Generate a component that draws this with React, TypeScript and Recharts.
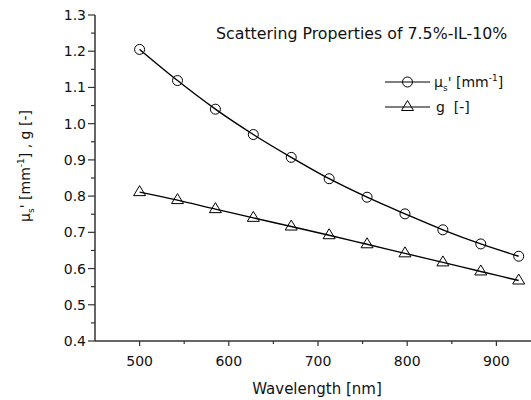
import { Label, Line, LineChart, XAxis, YAxis } from 'recharts';

// wavelength [nm] of the measured points
const wavelengths = [500, 542.5, 585, 627.5, 670, 712.5, 755, 797.5, 840, 882.5, 925];
// reduced scattering coefficient mu_s' [mm^-1]
const musValues = [1.205, 1.119, 1.04, 0.97, 0.907, 0.848, 0.797, 0.751, 0.707, 0.668, 0.634];
// anisotropy g [-]
const gValues = [0.811, 0.789, 0.764, 0.74, 0.716, 0.692, 0.667, 0.642, 0.617, 0.592, 0.567];

const xTicks = [500, 550, 600, 650, 700, 750, 800, 850, 900];
const xTickLabels = ['500', '', '600', '', '700', '', '800', '', '900'];
const yTicks = [0.4, 0.45, 0.5, 0.55, 0.6, 0.65, 0.7, 0.75, 0.8, 0.85, 0.9, 0.95, 1.0, 1.05, 1.1, 1.15, 1.2, 1.25, 1.3];
const yTickLabels = ['0.4', '', '0.5', '', '0.6', '', '0.7', '', '0.8', '', '0.9', '', '1.0', '', '1.1', '', '1.2', '', '1.3'];

const title = 'Scattering Properties of 7.5%-IL-10%';

const data = wavelengths.map((w, i) => ({ w, mus: musValues[i], g: gValues[i] }));

const FONT = '"DejaVu Sans", "Liberation Sans", Arial, sans-serif';
const INK = '#000';
const AXIS = '#333';

function XTick(props: any) {
  const { x, y, index } = props;
  const label = xTickLabels[index];
  return (
    <g>
      <line x1={x} x2={x} y1={y} y2={y + (label ? 5 : 3)} stroke={AXIS} strokeWidth={1.2} />
      {label && (
        <text x={x} y={y + 25} textAnchor="middle" fontSize={14} fontFamily={FONT} fill="#111">
          {label}
        </text>
      )}
    </g>
  );
}

function YTick(props: any) {
  const { x, y, index } = props;
  const label = yTickLabels[index];
  return (
    <g>
      <line x1={x - (label ? 7 : 4)} x2={x} y1={y} y2={y} stroke={AXIS} strokeWidth={1.2} />
      {label && (
        <text x={x - 9} y={y + 5} textAnchor="end" fontSize={14} fontFamily={FONT} fill="#111">
          {label}
        </text>
      )}
    </g>
  );
}

function CircleDot(props: any) {
  const { cx, cy } = props;
  return <circle cx={cx} cy={cy} r={5} fill="none" stroke={INK} strokeWidth={1} />;
}

function TriangleDot(props: any) {
  const { cx, cy } = props;
  return (
    <path
      d={`M${cx},${cy - 6.5} L${cx + 6},${cy + 3.5} L${cx - 6},${cy + 3.5} Z`}
      fill="none"
      stroke={INK}
      strokeWidth={1}
    />
  );
}

function YLabel() {
  const cx = 30;
  const cy = 166;
  return (
    <text
      x={cx}
      y={cy}
      transform={`rotate(-90, ${cx}, ${cy})`}
      textAnchor="middle"
      fontSize={14}
      fontFamily={FONT}
      fill="#111"
    >
      μ<tspan dy={4} fontSize={9}>s</tspan>
      <tspan dy={-4}>' [mm</tspan>
      <tspan dy={-6} fontSize={9}>-1</tspan>
      <tspan dy={6}>] , g [-]</tspan>
    </text>
  );
}

function LegendBox() {
  return (
    <svg width={146} height={42} style={{ display: 'block', overflow: 'visible' }}>
      <line x1={0} x2={45} y1={10} y2={10} stroke={INK} strokeWidth={1.2} />
      <circle cx={22.5} cy={10} r={5} fill="none" stroke={INK} strokeWidth={1} />
      <text x={49} y={15} fontSize={14} fontFamily={FONT} fill="#111">
        μ<tspan dy={4} fontSize={9}>s</tspan>
        <tspan dy={-4}>' [mm</tspan>
        <tspan dy={-6} fontSize={9}>-1</tspan>
        <tspan dy={6}>]</tspan>
      </text>
      <line x1={0} x2={45} y1={35} y2={35} stroke={INK} strokeWidth={1.2} />
      <path d="M22.5,28.5 L28.5,38.5 L16.5,38.5 Z" fill="none" stroke={INK} strokeWidth={1} />
      <text x={51} y={40} fontSize={14} fontFamily={FONT} fill="#111" xmlSpace="preserve">
        g  [-]
      </text>
    </svg>
  );
}

export default function App() {
  return (
    <div
      style={{
        position: 'absolute',
        left: 0,
        top: 0,
        width: 531,
        height: 400,
        overflow: 'hidden',
        background: '#fff',
      }}
    >
      <LineChart
        width={541}
        height={400}
        data={data}
        margin={{ top: 15, right: 0, bottom: 0, left: 45 }}
      >
        <XAxis
          dataKey="w"
          type="number"
          domain={[450, 950]}
          ticks={xTicks}
          interval={0}
          tick={<XTick />}
          tickLine={false}
          tickSize={0}
          tickMargin={0}
          height={59}
          axisLine={{ stroke: AXIS, strokeWidth: 1.5 }}
          allowDataOverflow
        >
          <Label
            content={() => (
              <text x={317} y={394} textAnchor="middle" fontSize={15} fontFamily={FONT} fill="#111">
                Wavelength [nm]
              </text>
            )}
          />
        </XAxis>
        <YAxis
          type="number"
          domain={[0.4, 1.3]}
          ticks={yTicks}
          interval={0}
          tick={<YTick />}
          tickLine={false}
          tickSize={0}
          tickMargin={0}
          width={50}
          axisLine={{ stroke: AXIS, strokeWidth: 1.5 }}
          allowDataOverflow
        >
          <Label content={() => <YLabel />} />
        </YAxis>
        <Line
          type="monotone"
          dataKey="mus"
          stroke={INK}
          strokeWidth={1.4}
          dot={<CircleDot />}
          activeDot={false}
          isAnimationActive={false}
        />
        <Line
          type="monotone"
          dataKey="g"
          stroke={INK}
          strokeWidth={1.4}
          dot={<TriangleDot />}
          activeDot={false}
          isAnimationActive={false}
        />
      </LineChart>
      <div style={{ position: 'absolute', left: 385, top: 72 }}>
        <LegendBox />
      </div>
      <div
        style={{
          position: 'absolute',
          left: 216,
          top: 24,
          fontFamily: FONT,
          fontSize: 15.8,
          color: '#111',
          whiteSpace: 'nowrap',
        }}
      >
        {title}
      </div>
    </div>
  );
}
